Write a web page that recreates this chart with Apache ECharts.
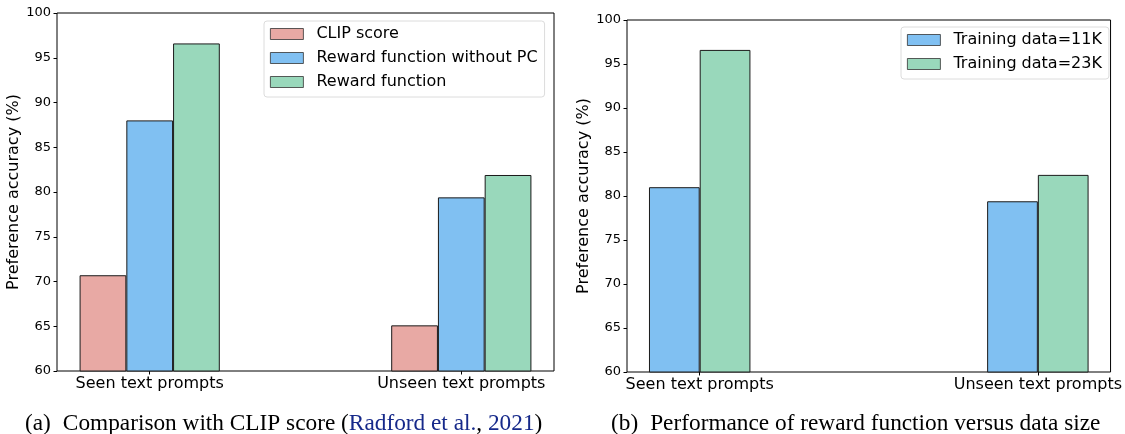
<!DOCTYPE html>
<html>
<head>
<meta charset="utf-8">
<script src="https://cdn.jsdelivr.net/npm/echarts@6/dist/echarts.min.js"></script>
<style>
  html, body { margin: 0; padding: 0; background: #fff; }
  #chart { width: 1125px; height: 434px; }
</style>
</head>
<body>
<div id="chart"></div>
<script>
// data
const categories = ['Seen text prompts', 'Unseen text prompts'];
const yTicks = [60, 65, 70, 75, 80, 85, 90, 95, 100];

// (a) comparison with CLIP score
const clipScore = [70.7, 65.1];
const rewardNoPC = [88.0, 79.4];
const rewardFull = [96.6, 81.9];

// (b) data size
const train11K = [81.0, 79.4];
const train23K = [96.6, 82.4];

const FONT = 'DejaVu Sans';
const SERIF = 'Liberation Serif';
const PINK = '#e8a9a4', BLUE = '#80c0f2', GREEN = '#99d8bb';

// bars sit at x = 0, 1 on a value axis (like matplotlib positions)
function pts(vals) {
  return vals.map((v, i) => [i, v]);
}

function xAxisCfg(idx, min, max) {
  return {
    type: 'value', gridIndex: idx, min: min, max: max,
    axisLine: {show: false, onZero: false},
    splitLine: {show: false},
    axisTick: {show: true, customValues: [0, 1], length: 3.5, lineStyle: {color: '#000'}},
    axisLabel: {
      customValues: [0, 1], margin: 5, color: '#000', fontFamily: FONT, fontSize: 16,
      formatter: v => categories[Math.round(v)]
    }
  };
}

function yAxisCfg(idx) {
  return {
    type: 'value', gridIndex: idx, min: yTicks[0], max: yTicks[yTicks.length - 1], interval: 5,
    name: 'Preference accuracy (%)', nameLocation: 'middle', nameGap: 27,
    nameTextStyle: {color: '#000', fontFamily: FONT, fontSize: 16},
    axisLine: {show: false, onZero: false},
    splitLine: {show: false},
    axisTick: {show: true, length: 3.5, lineStyle: {color: '#000'}},
    axisLabel: {margin: 6, color: '#000', fontFamily: FONT, fontSize: 13}
  };
}

function barSeries(name, vals, color, idx) {
  return {
    name: name, type: 'bar', xAxisIndex: idx, yAxisIndex: idx,
    data: pts(vals), barWidth: '15%', barGap: '0%',
    itemStyle: {color: color, borderColor: '#1a1a1a', borderWidth: 1},
    emphasis: {disabled: true}
  };
}

const legendText = {color: '#000', fontFamily: FONT, fontSize: 16, lineHeight: 16, padding: [0, 0, 0, 8]};
const capRich = {
  a: {fontFamily: SERIF, fontSize: 23.3, fontWeight: 'normal', color: '#000', padding: [0, 12, 0, 0]},
  t: {fontFamily: SERIF, fontSize: 23.3, fontWeight: 'normal', color: '#000'},
  c: {fontFamily: SERIF, fontSize: 23.3, fontWeight: 'normal', color: '#16298a'}
};

const chart = echarts.init(document.getElementById('chart'), null, {renderer: 'canvas'});
chart.setOption({
  animation: false,
  title: [
    {
      left: 20, top: 407,
      text: '{a|(a)}{t|Comparison with CLIP score (}{c|Radford et al.}{t|, }{c|2021}{t|)}',
      textStyle: {fontWeight: 'normal', rich: capRich}
    },
    {
      left: 606, top: 407,
      text: '{a|(b)}{t|Performance of reward function versus data size}',
      textStyle: {fontWeight: 'normal', rich: capRich}
    }
  ],
  grid: [
    {left: 57, top: 13, right: 571, bottom: 63, show: true, borderColor: '#000', borderWidth: 1, backgroundColor: '#fff'},
    {left: 627, top: 20, right: 11, bottom: 62, show: true, borderColor: '#000', borderWidth: 1, backgroundColor: '#fff'}
  ],
  legend: [
    {
      data: ['CLIP score', 'Reward function without PC', 'Reward function'],
      orient: 'vertical', left: 264, top: 21, padding: [5, 7, 7, 6],
      icon: 'rect', itemWidth: 33, itemHeight: 11, itemGap: 8,
      itemStyle: {borderWidth: 0.8, borderColor: '#333'},
      backgroundColor: 'rgba(255,255,255,0.8)', borderColor: '#dcdcdc', borderWidth: 1, borderRadius: 3,
      textStyle: legendText, selectedMode: false
    },
    {
      data: ['Training data=11K', 'Training data=23K'],
      orient: 'vertical', left: 901, top: 27, padding: [5, 7, 7, 6],
      icon: 'rect', itemWidth: 33, itemHeight: 11, itemGap: 8,
      itemStyle: {borderWidth: 0.8, borderColor: '#333'},
      backgroundColor: 'rgba(255,255,255,0.8)', borderColor: '#dcdcdc', borderWidth: 1, borderRadius: 3,
      textStyle: legendText, selectedMode: false
    }
  ],
  xAxis: [xAxisCfg(0, -0.2975, 1.2975), xAxisCfg(1, -0.215, 1.215)],
  yAxis: [yAxisCfg(0), yAxisCfg(1)],
  series: [
    barSeries('CLIP score', clipScore, PINK, 0),
    barSeries('Reward function without PC', rewardNoPC, BLUE, 0),
    barSeries('Reward function', rewardFull, GREEN, 0),
    barSeries('Training data=11K', train11K, BLUE, 1),
    barSeries('Training data=23K', train23K, GREEN, 1)
  ]
});
</script>
</body>
</html>
